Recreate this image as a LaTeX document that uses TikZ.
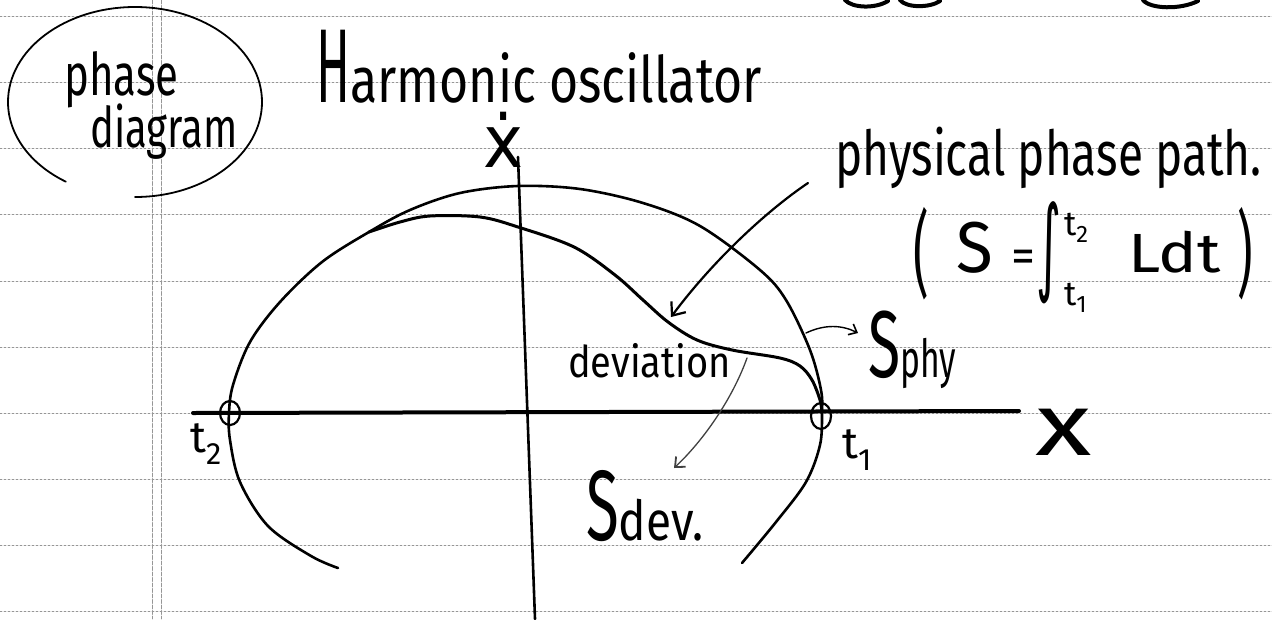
\documentclass[tikz,border=0pt]{standalone}
\usepackage{fontspec}
\setmainfont{Fira Sans}
\newfontfamily\dejavu{DejaVu Sans}
\usetikzlibrary{arrows.meta}
\definecolor{rulegray}{RGB}{150,150,150}
\begin{document}
\begin{tikzpicture}[x=1pt,y=-1pt, line cap=round, line join=round,
  rule/.style={draw=rulegray, line width=0.9pt, dash pattern=on 2pt off 2pt},
  lbl/.style={inner sep=0pt, text=black},
  curve/.style={draw=black, line width=2.6pt},
  leader/.style={draw=black, line width=2.2pt, -{Straight Barb[length=11pt,width=18pt,line width=2.2pt]}},
  thinleader/.style={draw=black, line width=1.4pt, -{Straight Barb[length=7pt,width=12pt,line width=1.6pt]}},
  faintleader/.style={draw=black!75, line width=1.3pt, -{Straight Barb[length=8pt,width=14pt,line width=1.8pt]}},
]
\useasboundingbox (0,0) rectangle (1272,619);
\fill[white] (0,0) rectangle (1272,619);
% ruled paper
\foreach \yy in {16,82,148,214,281,347,413,479,545,611} \draw[rule] (0,\yy) -- (1272,\yy);
\draw[rule, dash pattern=on 4pt off 1.5pt] (152,0) -- (152,619);
\draw[rule, dash pattern=on 4pt off 1.5pt] (161,0) -- (161,619);
% fragments of the line above
\draw[line width=4pt] (845,0) .. controls (852,8) and (875,9) .. (888,1);
\draw[line width=4pt] (900,0) .. controls (906,8) and (930,8) .. (940,1);
\draw[line width=4pt] (1143,0) .. controls (1150,9) and (1180,10) .. (1198,1);
% title bubble
\node[lbl, anchor=base west, font=\fontsize{42}{42}\selectfont] (phase) at (64,95) {\scalebox{1}[1.4]{phase}};
\node[lbl, anchor=base west, font=\fontsize{40}{40}\selectfont] (diagram) at (90,147) {\scalebox{1}[1.4]{diagram}};
\draw[line width=1.8pt] (135,197) arc[start angle=90, end angle=-237, x radius=127, y radius=95];
\node[lbl, anchor=base west, font=\fontsize{50}{50}\selectfont] (title) at (316,102) {\scalebox{1}[2.1]{H}\scalebox{1}[1.28]{armonic oscillator}};
% axes
\node[lbl, font=\fontsize{52}{52}\selectfont] (xdot) at (503,140) {\scalebox{1.3}[1.4]{\dejavu ẋ}};
\coordinate (vtop) at (518,157);
\coordinate (vbot) at (535,619);
\draw[line width=2.6pt] (vtop) -- (vbot);
\coordinate (xstart) at (193,413);
\coordinate (xend) at (1019,411);
\draw[line width=4pt] (xstart) -- (xend);
\node[lbl, font=\fontsize{80}{80}\selectfont] (xlab) at (1064,432) {\scalebox{1.45}[1.1]{x}};
% outer phase curve
\draw[curve] plot[smooth, tension=0.55] coordinates {(338,568) (311,556) (268,526) (240,482) (230,440) (229,413) (233,385) (250,342) (280,302) (322,262) (369,232) (410,210) (460,193) (518,186) (580,189) (643,203) (700,226) (760,270) (786,300) (810,350) (821,390) (822,413) (820,445) (806,482) (776,522) (742,563)};
% physical (inner) path
\draw[curve, line width=3pt] plot[smooth, tension=0.55] coordinates {(369,232) (400,222) (430,216) (480,217) (518,227) (574,247) (615,275) (643,300) (668,322) (697,340) (732,350) (780,358) (800,366) (812,380) (820,400) (822,413)};
% end points
\draw[line width=2.2pt] (230,413) ellipse[x radius=10, y radius=12];
\draw[line width=2.2pt] (821,416) ellipse[x radius=10, y radius=13];
\node[lbl, font=\fontsize{44}{44}\selectfont] (t2) at (206,444) {t\textsubscript{2}};
\node[lbl, font=\fontsize{44}{44}\selectfont] (t1) at (857,450) {t\textsubscript{1}};
% labels
\node[lbl, anchor=base west, font=\fontsize{46}{46}\selectfont] (phys) at (835,175) {\scalebox{1}[1.35]{physical phase path.}};
\node[lbl, anchor=base west, font=\fontsize{48}{48}\selectfont] (action) at (913,272) {\makebox[43pt][l]{\raisebox{-14pt}{\scalebox{1}[1.95]{(}}}\makebox[55pt][l]{\scalebox{1.4}[1.5]{S}}\makebox[25pt][l]{=}\makebox[28pt][l]{\raisebox{-9pt}{\scalebox{1}[2.2]{\dejavu ∫}}}\makebox[64pt][l]{\rlap{\raisebox{37pt}{\fontsize{34}{34}\selectfont t\textsubscript{2}}}\raisebox{-33pt}{\fontsize{34}{34}\selectfont t\textsubscript{1}}}\makebox[109pt][l]{\scalebox{1.35}[1.15]{Ldt}}\raisebox{-14pt}{\scalebox{1}[1.95]{)}}};
\node[lbl, anchor=base west, font=\fontsize{38}{38}\selectfont] (dev) at (568,377) {\scalebox{1}[1.15]{deviation}};
\node[lbl, anchor=base west] (sdev) at (586,540) {{\fontsize{100}{100}\selectfont\scalebox{0.6}[1]{S}}{\fontsize{46}{46}\selectfont\scalebox{1}[1.2]{dev.}}};
\node[lbl, anchor=base west] (sphy) at (868,377) {{\fontsize{95}{95}\selectfont\scalebox{0.62}[1]{S}}{\fontsize{42}{42}\selectfont\scalebox{0.8}[1.25]{phy}}};
% leaders
\coordinate (physfrom) at (808,183);
\coordinate (physto) at (671,317);
\draw[leader] (physfrom) .. controls (765,212) and (712,262) .. (physto);
\coordinate (sphyfrom) at (806,333);
\coordinate (sphyto) at (858,333);
\draw[thinleader] (sphyfrom) .. controls (825,324) and (842,325) .. (sphyto);
\coordinate (sdevfrom) at (747,358);
\coordinate (sdevto) at (674,468);
\draw[faintleader] (sdevfrom) .. controls (732,400) and (702,442) .. (sdevto);
\end{tikzpicture}
\end{document}
